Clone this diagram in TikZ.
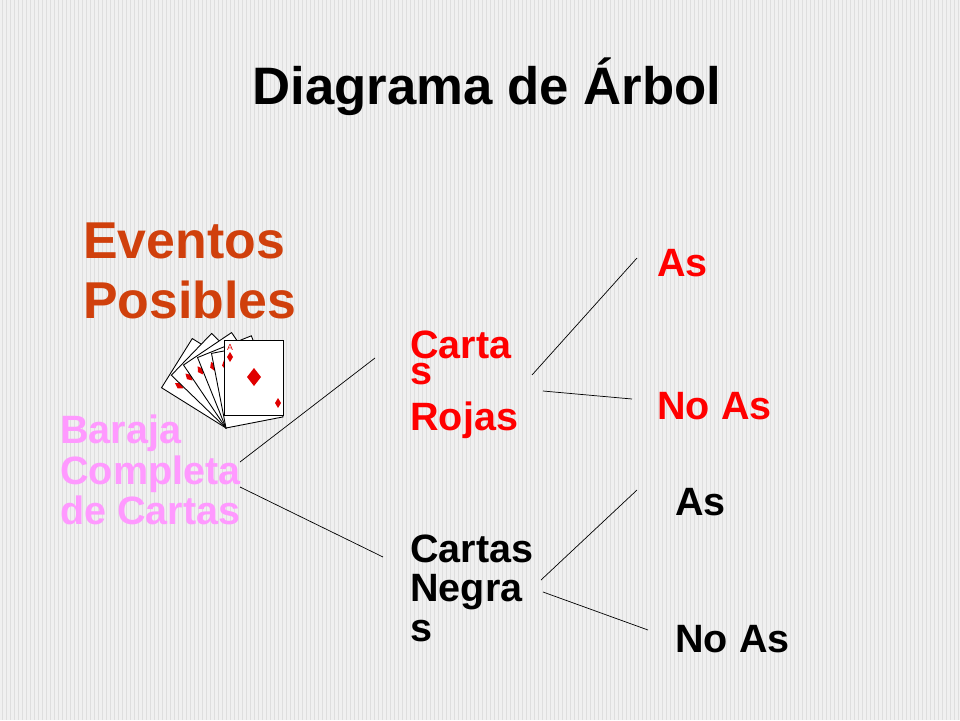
\documentclass[tikz,border=0pt]{standalone}
\usepackage{fontspec}
\setmainfont{Liberation Sans}
\usetikzlibrary{positioning}
\definecolor{eventcol}{HTML}{D0400C}
\definecolor{barajacol}{HTML}{FF99FF}
\definecolor{stripecol}{HTML}{DEDEDE}
\definecolor{cardred}{HTML}{E00000}
\tikzset{
  txt/.style={font=\bfseries\fontsize{22.5}{22.5}\selectfont, anchor=base west, inner sep=0pt},
  bigtxt/.style={font=\bfseries\fontsize{29.5}{29.5}\selectfont, anchor=base west, inner sep=0pt},
  branch/.style={draw=black, line width=0.4pt},
  card/.style={draw=black, fill=white, line width=0.5pt},
}
\begin{document}
\begin{tikzpicture}[x=0.02cm, y=-0.02cm]
\useasboundingbox (0,0) rectangle (960,720);
\fill[white!94!black] (0,0) rectangle (960,720);
\foreach \x in {2,6,...,958}
  \draw[stripecol, line width=0.5pt] (\x,0) -- (\x,720);
% title
\node[bigtxt, anchor=base, font=\bfseries\fontsize{30}{30}\selectfont] (title) at (487,104) {Diagrama de Árbol};
\node[bigtxt, text=eventcol] (ev1) at (83,258) {Eventos};
\node[bigtxt, text=eventcol] (ev2) at (83,318) {Posibles};
% cards
\foreach \a in {58,46,34,22,11}{
  \begin{scope}[shift={(226,428)}, rotate=\a]
    \draw[card] (0,0) rectangle (58,-76);
    \fill[cardred] (8,-62) -- ++(3,-5) -- ++(3,5) -- ++(-3,5) -- cycle;
    \fill[cardred] (14,-42) -- ++(6,-9) -- ++(6,9) -- ++(-6,9) -- cycle;
  \end{scope}
}
\draw[card] (224,340) rectangle (283,415);
\node[font=\tiny, text=cardred, inner sep=0pt] (ace) at (230,347) {A};
\fill[cardred] (254,368) -- (261,377) -- (254,386) -- (247,377) -- cycle;
\fill[cardred] (230,352) -- (233,357) -- (230,362) -- (227,357) -- cycle;
\fill[cardred] (278,398) -- (281,403) -- (278,408) -- (275,403) -- cycle;
% labels
\node[txt, text=barajacol] (b1) at (60,443) {Baraja};
\node[txt, text=barajacol] (b2) at (60,484) {Completa};
\node[txt, text=barajacol] (b3) at (60,524) {de Cartas};
\node[txt, text=red] (r1) at (410,358) {Carta};
\node[txt, text=red] (r2) at (410,384) {s};
\node[txt, text=red] (r3) at (410,430) {Rojas};
\node[txt] (n1) at (410,562) {Cartas};
\node[txt] (n2) at (410,601) {Negra};
\node[txt] (n3) at (410,641) {s};
\node[txt, text=red] (ra) at (657,276) {As};
\node[txt, text=red] (rn) at (657,419) {No As};
\node[txt] (na) at (675,515) {As};
\node[txt] (nn) at (675,652) {No As};
% connectors
\coordinate (bR) at (240,462); \coordinate (bN) at (240,487);
\coordinate (rL) at (375,358); \coordinate (nL) at (383,557);
\coordinate (rA) at (532,375); \coordinate (rB) at (543,391);
\coordinate (nA) at (541,580); \coordinate (nB) at (543,592);
\coordinate (raE) at (637,258); \coordinate (rnE) at (632,399);
\coordinate (naE) at (637,490); \coordinate (nnE) at (648,630);
\draw[branch] (bR) -- (rL);
\draw[branch] (bN) -- (nL);
\draw[branch] (rA) -- (raE);
\draw[branch] (rB) -- (rnE);
\draw[branch] (nA) -- (naE);
\draw[branch] (nB) -- (nnE);
\end{tikzpicture}
\end{document}
